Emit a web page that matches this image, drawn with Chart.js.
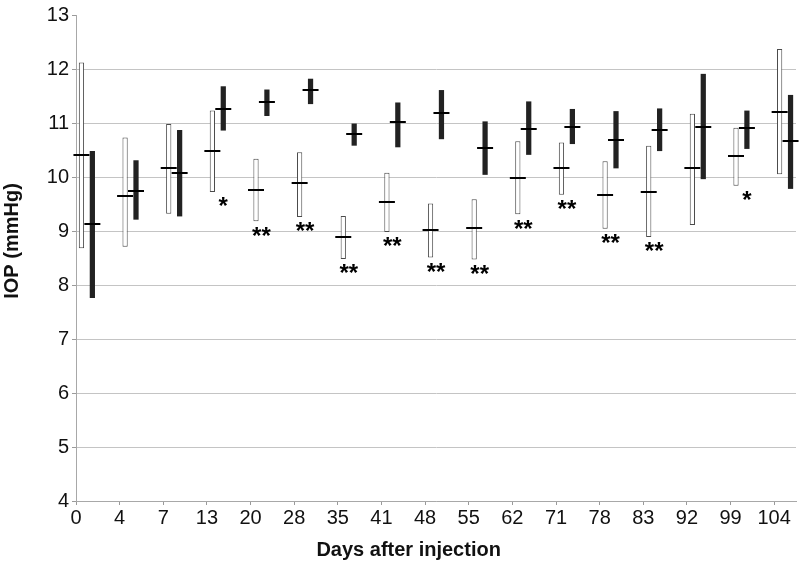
<!DOCTYPE html>
<html>
<head>
<meta charset="utf-8">
<script src="https://cdn.jsdelivr.net/npm/chart.js@4/dist/chart.umd.min.js"></script>
<style>
  html, body { margin: 0; padding: 0; background: #fff; }
  #wrap { width: 800px; height: 565px; }
</style>
</head>
<body>
<div id="wrap"><canvas id="chartIop" width="800" height="565"></canvas></div>
<script>
/* IOP par jour après injection : plage (min-max) + moyenne, deux groupes */

const days = ['0', '4', '7', '13', '20', '28', '35', '41', '48', '55', '62', '71', '78', '83', '92', '99', '104'];

// groupe blanc
const whiteLow  = [8.68, 8.71, 9.32, 9.72, 9.18, 9.26, 8.48, 8.98, 8.51, 8.47, 9.31, 9.67, 9.04, 8.89, 9.11, 9.84, 10.05];
const whiteHigh = [12.12, 10.73, 10.98, 11.23, 10.34, 10.46, 9.28, 10.08, 9.51, 9.59, 10.66, 10.64, 10.29, 10.58, 11.17, 10.91, 12.37];
const whiteMean = [10.40, 9.65, 10.17, 10.49, 9.76, 9.89, 8.89, 9.54, 9.02, 9.06, 9.98, 10.16, 9.66, 9.73, 10.16, 10.39, 11.21];

// groupe noir
const blackLow  = [7.76, 9.21, 9.27, 10.86, 11.13, 11.35, 10.58, 10.55, 10.70, 10.04, 10.41, 10.61, 10.16, 10.48, 9.96, 10.52, 9.78];
const blackHigh = [10.48, 10.31, 10.87, 11.68, 11.62, 11.82, 10.99, 11.38, 11.61, 11.03, 11.40, 11.26, 11.22, 11.27, 11.91, 11.23, 11.52];
const blackMean = [9.13, 9.75, 10.08, 11.26, 11.39, 11.61, 10.80, 11.01, 11.19, 10.54, 10.88, 10.93, 10.69, 10.87, 10.93, 10.90, 10.66];

// significativité sous les barres blanches
const stars = ['', '', '', '*', '**', '**', '**', '**', '**', '**', '**', '**', '**', '**', '', '*', ''];

const xTitle = 'Days after injection';
const yTitle = 'IOP (mmHg)';

const FONT = '"Liberation Sans", Arial, sans-serif';

/* traits de moyenne + astérisques + titres d'axes */
const meanMarks = {
  id: 'meanMarks',
  afterDatasetsDraw(chart) {
    const ctx   = chart.ctx;
    const y     = chart.scales.y;
    const white = chart.getDatasetMeta(0).data;
    const black = chart.getDatasetMeta(1).data;

    ctx.save();
    ctx.strokeStyle = '#000';
    ctx.lineWidth = 2;
    [[white, whiteMean], [black, blackMean]].forEach(function (pair) {
      const bars = pair[0], means = pair[1];
      bars.forEach(function (bar, i) {
        const py = Math.round(y.getPixelForValue(means[i]));
        ctx.beginPath();
        ctx.moveTo(bar.x - 8, py);
        ctx.lineTo(bar.x + 8, py);
        ctx.stroke();
      });
    });

    ctx.fillStyle = '#000';
    ctx.font = 'bold 24px ' + FONT;
    ctx.textAlign = 'center';
    ctx.textBaseline = 'alphabetic';
    stars.forEach(function (s, i) {
      if (!s) return;
      const cx = s.length === 1 ? black[i].x : (white[i].x + black[i].x) / 2;
      const bottom = y.getPixelForValue(whiteLow[i]);
      ctx.fillText(s, cx, bottom + 5 + 0.72 * 24);
    });
    ctx.restore();
  },
  afterDraw(chart) {
    const ctx = chart.ctx;
    const area = chart.chartArea;
    ctx.save();
    ctx.fillStyle = '#111';
    ctx.font = 'bold 20px ' + FONT;
    ctx.textAlign = 'center';
    ctx.textBaseline = 'alphabetic';
    // titre X, un peu à gauche du centre comme sur la figure
    ctx.fillText(xTitle, area.left + (area.right - area.left) * 0.462, chart.height - 9);
    // titre Y, tourné
    ctx.translate(18, area.top + (area.bottom - area.top) * 0.465);
    ctx.rotate(-Math.PI / 2);
    ctx.fillText(yTitle, 0, 0);
    ctx.restore();
  }
};

new Chart(document.getElementById('chartIop'), {
  type: 'bar',
  data: {
    datasets: [
      {
        label: 'blanc',
        xAxisID: 'xb',
        data: days.map((d, i) => ({ x: i, y: [whiteLow[i], whiteHigh[i]] })),
        backgroundColor: '#ffffff',
        borderColor: '#4a4a4a',
        borderWidth: 1,
        borderSkipped: false,
        categoryPercentage: 0.5,
        barPercentage: 0.48
      },
      {
        label: 'noir',
        xAxisID: 'xb',
        data: days.map((d, i) => ({ x: i, y: [blackLow[i], blackHigh[i]] })),
        backgroundColor: '#222222',
        borderWidth: 0,
        categoryPercentage: 0.5,
        barPercentage: 0.48
      }
    ]
  },
  options: {
    responsive: false,
    animation: false,
    layout: { padding: { top: 5, right: 4, left: 0, bottom: 0 } },
    plugins: {
      legend: { display: false },
      tooltip: { enabled: false }
    },
    scales: {
      xb: {
        type: 'linear', display: false, offset: false,
        grid: { offset: false },
        min: -0.25, max: 16.25
      },
      x: {
        type: 'linear',
        position: 'bottom',
        offset: false,
        min: 0,
        max: 16.5,
        afterBuildTicks: function (s) { s.ticks = days.map((d, i) => ({ value: i })); },
        afterFit: function (s) { s.height = 64; },
        ticks: {
          autoSkip: false,
          maxRotation: 0,
          padding: 1,
          color: '#111',
          font: { family: FONT, size: 20 },
          callback: function (v) { return days[v]; }
        },
        grid: { offset: false, drawOnChartArea: false, tickLength: 4, color: '#9a9a9a' },
        border: { color: '#a8a8a8' }
      },
      y: {
        min: 4,
        max: 13,
        afterFit: function (s) { s.width = 76; },
        ticks: {
          stepSize: 1,
          padding: 3,
          color: '#111',
          font: { family: FONT, size: 20 }
        },
        grid: {
          color: ctx => ctx.tick && ctx.tick.value === 13 ? 'rgba(0,0,0,0)' : '#c4c4c4',
          tickColor: '#9a9a9a',
          tickLength: 4
        },
        border: { color: '#a8a8a8' }
      }
    }
  },
  plugins: [meanMarks]
});
</script>
</body>
</html>
